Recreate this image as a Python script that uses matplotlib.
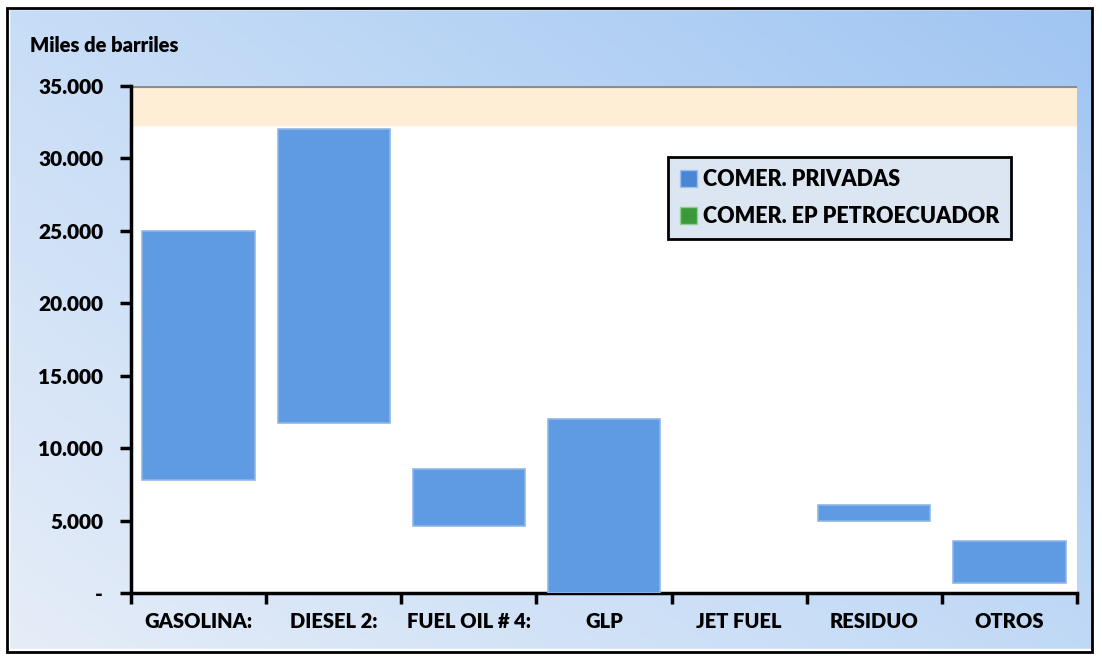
import numpy as np
import matplotlib
matplotlib.use("Agg")
import matplotlib.pyplot as plt
from matplotlib.patches import Rectangle, Patch
from matplotlib.ticker import FuncFormatter
from matplotlib.colors import LinearSegmentedColormap

plt.rcParams["font.family"] = ["Lato", "DejaVu Sans"]
plt.rcParams["font.weight"] = "bold"

categories = ["GASOLINA:", "DIESEL 2:", "FUEL OIL # 4:", "GLP", "JET FUEL", "RESIDUO", "OTROS"]
# lower segment (EP Petroecuador, drawn without fill) and upper segment (privadas)
ep_petroecuador = [7800, 11750, 4630, 0, 0, 4970, 690]
privadas = [17200, 20270, 3930, 12010, 0, 1100, 2900]

fig = plt.figure(figsize=(11.02, 6.58), dpi=100)

# background gradient of the chart area
bg = fig.add_axes([0, 0, 1, 1], zorder=-10)
xx, yy = np.meshgrid(np.linspace(0, 1, 200), np.linspace(0, 1, 200))
grad = 0.55 * xx + 0.45 * yy
cmap = LinearSegmentedColormap.from_list("bgblue", ["#e6edf8", "#c4dbf6", "#9fc5f2"])
bg.imshow(grad, cmap=cmap, extent=[0, 1, 0, 1], origin="lower", aspect="auto")
bg.set_xlim(0, 1)
bg.set_ylim(0, 1)
bg.axis("off")
# white outer margin and black frame
bg.add_patch(Rectangle((0, 0), 1, 1, fill=False, edgecolor="white", linewidth=14,
                       transform=bg.transAxes))
bg.add_patch(Rectangle((7 / 1102, 1 - 652 / 658), 1085 / 1102, 644 / 658, fill=False,
                       edgecolor="black", linewidth=2, transform=bg.transAxes))

ax = fig.add_axes([131 / 1102, 1 - 593 / 658, 946 / 1102, 507 / 658])
ax.set_facecolor("white")
x = np.arange(len(categories))
ax.axhspan(32300, 35000, color="#fdeed5", zorder=0)
ax.axhline(35000, color="#8c8c8c", linewidth=3, zorder=1)

ax.bar(x, ep_petroecuador, width=0.83, color="none", edgecolor="none")
ax.bar(x, privadas, bottom=ep_petroecuador, width=0.83, color="#5f9be2",
       edgecolor="#8fb6e6", linewidth=[1.2 if v > 0 else 0 for v in privadas], zorder=3)

ax.set_xlim(-0.5, len(categories) - 0.5)
ax.set_ylim(0, 35000)
ax.set_yticks(np.arange(0, 35001, 5000))
ax.yaxis.set_major_formatter(FuncFormatter(
    lambda v, p: "-" if v == 0 else f"{int(v):,}".replace(",", ".")))
ax.set_xticks(x)
ax.set_xticklabels(categories)
ax.set_xticks(np.arange(-0.5, len(categories)), minor=True)
ax.tick_params(axis="x", which="major", length=0, pad=14, labelsize=14.5)
ax.tick_params(axis="x", which="minor", length=8, width=2.5, direction="out")
ax.tick_params(axis="y", length=8, width=2.5, direction="out", labelsize=15, pad=12)
for lbl in ax.get_xticklabels() + ax.get_yticklabels():
    lbl.set_fontweight("heavy")

for side in ["top", "right"]:
    ax.spines[side].set_visible(False)
for side in ["left", "bottom"]:
    ax.spines[side].set_linewidth(2.5)

fig.text(30 / 1102, 1 - 45 / 658, "Miles de barriles", fontsize=14.5, fontweight="heavy",
         va="center", ha="left")

handles = [Patch(facecolor="#4a86d6", edgecolor="#9cc0ee", label="COMER. PRIVADAS"),
           Patch(facecolor="#3a9a3a", edgecolor="#8fd08f", label="COMER. EP PETROECUADOR")]
leg = ax.legend(handles=handles, loc="upper left", bbox_to_anchor=(0.568, 0.86),
                borderaxespad=0, frameon=True, fancybox=False, handlelength=0.8,
                handleheight=0.8, handletextpad=0.25, labelspacing=0.75, borderpad=0.55,
                prop={"size": 15.5, "weight": "heavy"})
leg.get_frame().set_facecolor("#dce6f2")
leg.get_frame().set_edgecolor("black")
leg.get_frame().set_linewidth(2)
leg.get_frame().set_alpha(1)

fig.savefig("out.png", dpi=100)
